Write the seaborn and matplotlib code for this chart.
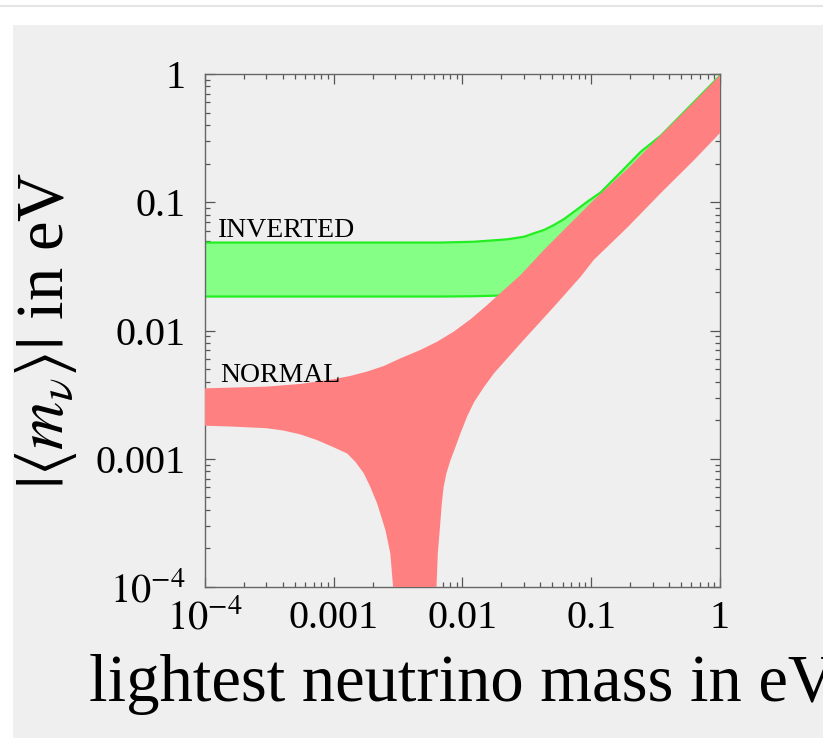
import numpy as np
import pandas as pd
import seaborn as sns
import matplotlib.pyplot as plt
from matplotlib.patches import Rectangle
from matplotlib.lines import Line2D
from matplotlib.ticker import FixedLocator, FixedFormatter, LogLocator, NullFormatter

# lightest neutrino mass (eV) and |<m_nu>| (eV)
normal_up_m = [1e-4, 3.02e-4, 5.48e-4, 9.96e-4, 1.34e-3, 1.81e-3, 2.44e-3, 3.30e-3, 4.71e-3, 6.35e-3,
               8.55e-3, 0.01153, 0.01555, 0.02095, 0.02825, 0.0429, 0.0579, 0.1045, 0.1923, 0.347, 0.628, 1.0]
normal_up = [0.00354, 0.00365, 0.00383, 0.00417, 0.00442, 0.00478, 0.00528, 0.00607, 0.00705, 0.00818,
             0.0098, 0.01222, 0.01581, 0.0207, 0.0271, 0.0425, 0.0575, 0.104, 0.183, 0.334, 0.605, 0.98]

# lower edge, left branch (drops to zero near 0.003 eV)
normal_lo_left_m = [1e-4, 1.66e-4, 3.02e-4, 4.06e-4, 5.48e-4, 7.39e-4, 9.96e-4, 1.27e-3, 1.47e-3,
                    1.71e-3, 1.92e-3, 2.17e-3, 2.52e-3, 2.75e-3, 2.89e-3, 3.0e-3]
normal_lo_left = [0.00181, 0.00178, 0.00173, 0.00166, 0.00155, 0.0014, 0.00123, 0.0011, 9.48e-4,
                  7.71e-4, 6.05e-4, 4.5e-4, 2.78e-4, 1.83e-4, 1.0e-4, 1e-5]

# lower edge, right branch
normal_lo_right_m = [6.2e-3, 6.28e-3, 6.43e-3, 6.59e-3, 6.75e-3, 6.91e-3, 7.14e-3, 7.5e-3, 8.07e-3,
                     8.83e-3, 9.64e-3, 0.01089, 0.01226, 0.01466, 0.01754, 0.02825, 0.0514, 0.0828,
                     0.1045, 0.1923, 0.347, 0.628, 1.0]
normal_lo_right = [1e-5, 1e-4, 1.83e-4, 2.47e-4, 3.33e-4, 4.5e-4, 6.05e-4, 7.71e-4, 9.77e-4,
                   1.24e-3, 1.58e-3, 2.15e-3, 2.75e-3, 3.62e-3, 4.63e-3, 7.94e-3, 0.01535, 0.0263,
                   0.0355, 0.0641, 0.118, 0.213, 0.347]

inv_m = [1e-4, 6.75e-3, 0.01226, 0.0223, 0.030, 0.0359, 0.043, 0.0514, 0.0614, 0.0734, 0.0933,
         0.1186, 0.170, 0.2427, 0.347, 1.0]
inv_up = [0.0485, 0.0485, 0.0492, 0.0514, 0.0538, 0.0573, 0.0608, 0.0665, 0.0739, 0.0843, 0.101,
          0.1195, 0.172, 0.248, 0.33, 0.97]
inv_lo = [0.0184, 0.0184, 0.0185, 0.0188, 0.02, 0.021, 0.023, 0.025, 0.027, 0.03, 0.035,
          0.045, 0.065, 0.09, 0.13, 0.38]

tick_vals = [1e-4, 1e-3, 1e-2, 1e-1, 1]
tick_labels = [r'$10^{-4}$', '0.001', '0.01', '0.1', '1']

sns.set_style("ticks")
plt.rcParams['font.family'] = ['Liberation Serif', 'DejaVu Serif']
plt.rcParams['mathtext.fontset'] = 'stix'
plt.rcParams['text.color'] = 'black'
plt.rcParams['axes.labelcolor'] = 'black'
plt.rcParams['xtick.labelcolor'] = 'black'
plt.rcParams['ytick.labelcolor'] = 'black'

bg = '#efefef'
fig = plt.figure(figsize=(8.35, 7.38), dpi=100, facecolor='white')
# grey panel behind everything
fig.patches.append(Rectangle((13 / 835, 0), (823 - 13) / 835, 1 - 25 / 738,
                             transform=fig.transFigure, facecolor=bg, edgecolor='none', zorder=-10))
fig.lines.append(Line2D([0, 1], [1 - 6 / 738, 1 - 6 / 738], transform=fig.transFigure,
                        color='#e4e4e4', lw=1.5))

ax = fig.add_axes([205 / 835, 1 - 587 / 738, 515 / 835, 513 / 738])
ax.set_facecolor(bg)
ax.set_xscale('log')
ax.set_yscale('log')

# inverted hierarchy band
ax.fill_between(inv_m, inv_lo, inv_up, color='#85ff85', lw=0, zorder=1)
df_inv = pd.DataFrame({'m': inv_m + inv_m, 'v': inv_up + inv_lo,
                       'edge': ['up'] * len(inv_m) + ['lo'] * len(inv_m)})
sns.lineplot(data=df_inv, x='m', y='v', units='edge', estimator=None, color='#22ee22',
             lw=1.6, ax=ax, zorder=2, legend=False)

# normal hierarchy band (polygon: upper edge left->right, lower edge right->left)
poly_x = normal_up_m + normal_lo_right_m[::-1] + normal_lo_left_m[::-1]
poly_y = normal_up + normal_lo_right[::-1] + normal_lo_left[::-1]
ax.fill(poly_x, poly_y, color='#ff8080', lw=0, zorder=3)

ax.set_xlim(1e-4, 1)
ax.set_ylim(1e-4, 1)

for axis in (ax.xaxis, ax.yaxis):
    axis.set_major_locator(FixedLocator(tick_vals))
    axis.set_major_formatter(FixedFormatter(tick_labels))
    axis.set_minor_locator(LogLocator(base=10, subs=np.arange(2, 10)))
    axis.set_minor_formatter(NullFormatter())

ax.tick_params(which='both', direction='in', top=True, right=True, color='#555555', width=0.9)
ax.tick_params(which='major', length=7, labelsize=29)
ax.tick_params(which='minor', length=3.5)
ax.tick_params(axis='x', which='major', pad=9)
ax.tick_params(axis='y', which='major', pad=14)
for s in ax.spines.values():
    s.set_color('#666666')
    s.set_linewidth(1.0)

ax.text(1.26e-4, 0.0536, 'INVERTED', fontsize=20, va='baseline', ha='left', zorder=5)
ax.text(1.31e-4, 0.00396, 'NORMAL', fontsize=20, va='baseline', ha='left', zorder=5)

ax.set_xlabel('lightest neutrino mass in eV', fontsize=48, labelpad=12)
ax.set_ylabel(r'$|\langle m_\nu \rangle|$ in eV', fontsize=48, labelpad=12)

# the white margin on the right hides the end of the x label, as in the original
fig.patches.append(Rectangle((823 / 835, 0), 12 / 835, 1, transform=fig.transFigure,
                             facecolor='white', edgecolor='none', zorder=20))

fig.savefig('out.png', dpi=100, facecolor=fig.get_facecolor())
